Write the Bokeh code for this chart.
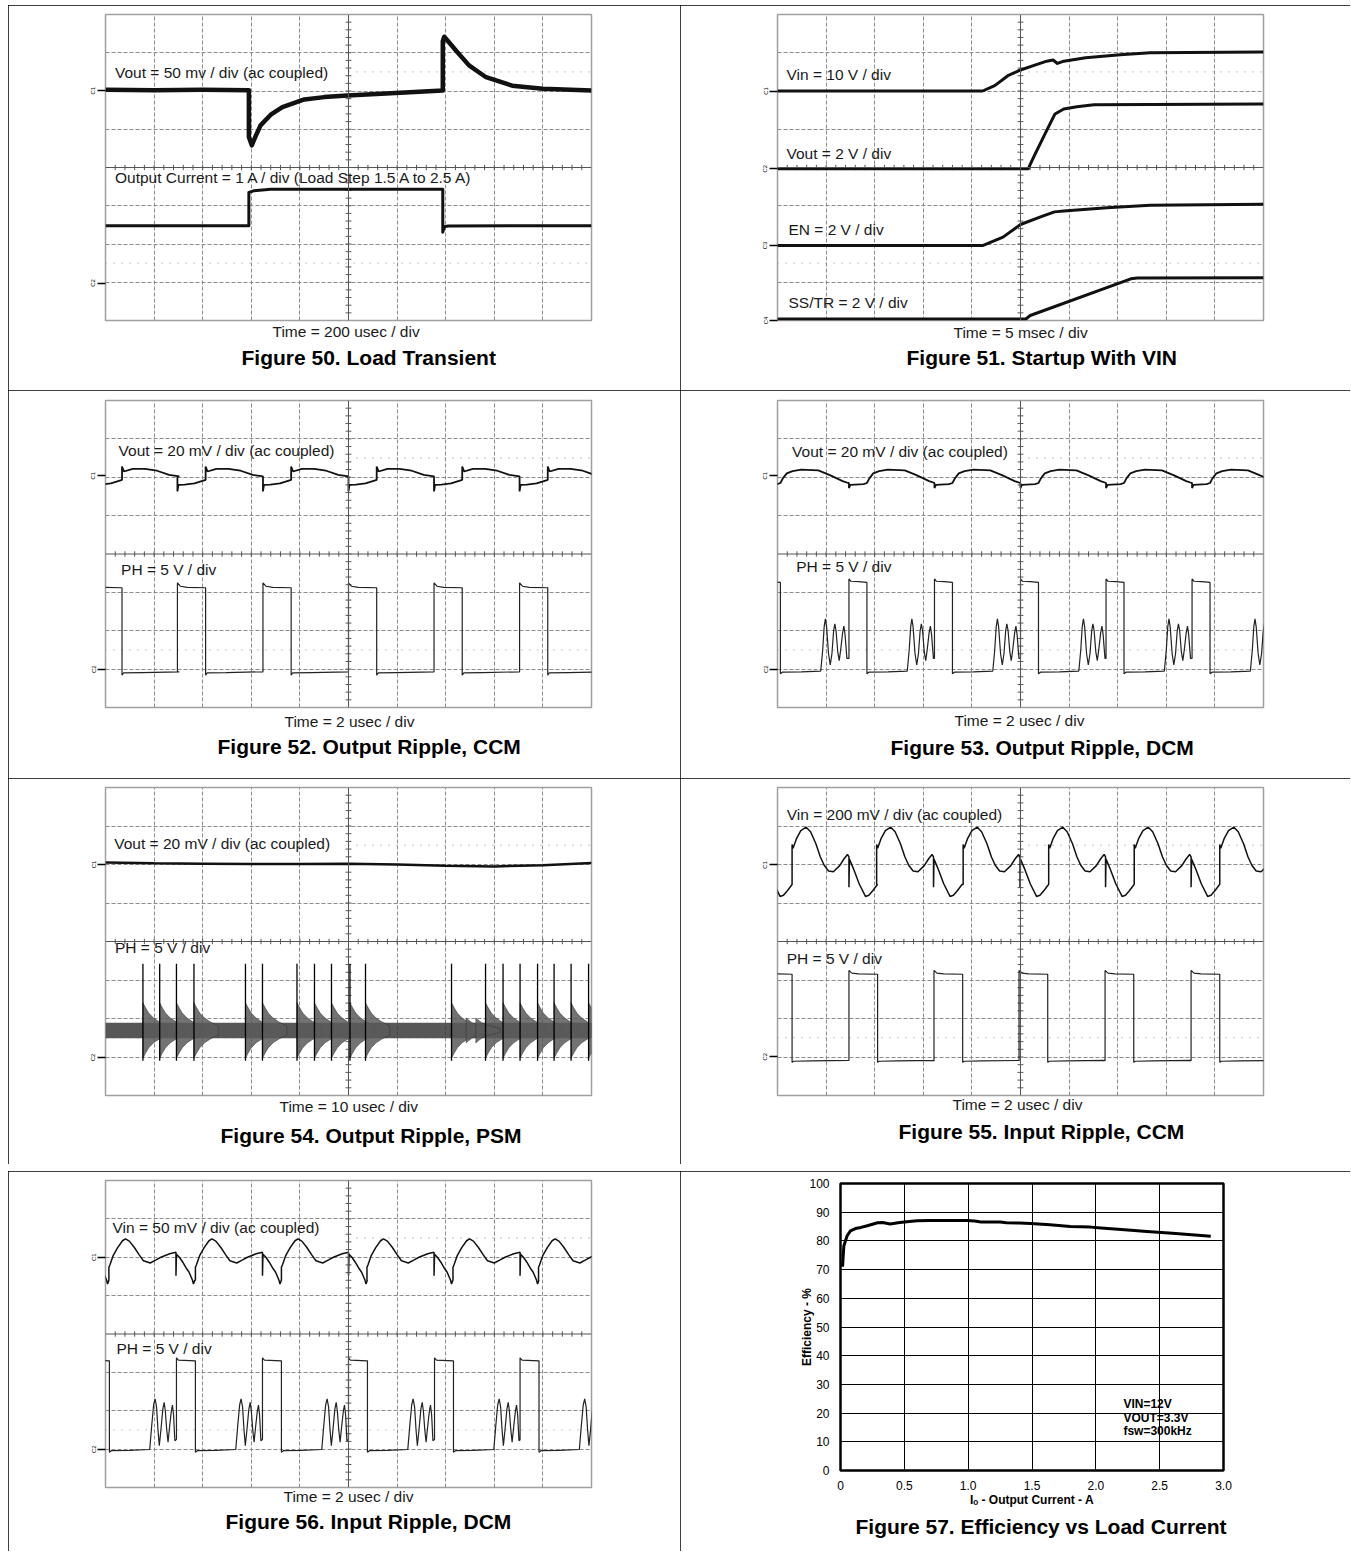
import numpy as np
from bokeh.plotting import figure
from bokeh.models import (Range1d, Label, Span, Grid, FixedTicker, LinearAxis, Title,
                          CustomJSTickFormatter, Spacer)
from bokeh.layouts import column, row
from bokeh.embed import file_html
from bokeh.resources import INLINE

FONT = "Liberation Sans"

# ============ DATA (scope traces in graticule divisions: x 0..10, y 0..8) ============
# Figure 50 - Load transient
F50_VOUT_X = [0.0, 1.0, 2.0, 2.95, 2.95, 3.01, 3.10, 3.19, 3.40, 3.64, 4.09, 4.50, 4.98, 5.87,
              6.94, 6.94, 6.97, 7.05, 7.21, 7.48, 7.83, 8.37, 9.0, 10.0]
F50_VOUT_Y = [6.03, 6.02, 6.03, 6.02, 4.80, 4.58, 4.85, 5.10, 5.38, 5.58, 5.78, 5.84, 5.88, 5.94,
              6.01, 7.30, 7.42, 7.30, 7.06, 6.67, 6.36, 6.14, 6.06, 6.01]
F50_IOUT_X = [0.0, 2.95, 2.95, 3.05, 3.40, 6.94, 6.94, 6.97, 7.05, 10.0]
F50_IOUT_Y = [2.48, 2.48, 3.35, 3.39, 3.43, 3.43, 2.31, 2.45, 2.47, 2.48]

# Figure 51 - Startup with VIN
F51_VIN_X = [0.0, 4.22, 4.47, 4.74, 5.00, 5.28, 5.54, 5.67, 5.76, 5.89, 6.34, 7.05, 7.67, 10.0]
F51_VIN_Y = [6.00, 6.00, 6.14, 6.40, 6.55, 6.67, 6.78, 6.81, 6.72, 6.78, 6.87, 6.95, 7.00, 7.02]
F51_VOUT_X = [0.0, 5.16, 5.27, 5.54, 5.71, 5.89, 6.16, 6.51, 10.0]
F51_VOUT_Y = [3.97, 3.97, 4.27, 4.97, 5.40, 5.53, 5.59, 5.64, 5.66]
F51_EN_X = [0.0, 4.22, 4.64, 5.00, 5.44, 5.70, 5.89, 6.78, 7.67, 10.0]
F51_EN_Y = [1.96, 1.96, 2.18, 2.51, 2.72, 2.84, 2.86, 2.95, 3.01, 3.04]
F51_SS_X = [0.0, 5.11, 5.20, 7.27, 7.40, 10.0]
F51_SS_Y = [0.04, 0.04, 0.13, 1.09, 1.11, 1.12]

# Figure 52 - Output ripple CCM (one switching period, PH rising edges)
F52_EDGES = [-0.24, 1.48, 3.24, 5.00, 6.76, 8.52]
F52_PH_DX = [0.00, 0.00, 0.06, 0.20, 0.58, 0.58, 0.61, 1.00, 1.76]
F52_PH_Y = [0.93, 3.25, 3.16, 3.13, 3.12, 0.84, 0.90, 0.91, 0.93]
F52_VOUT_DX = [0.00, 0.00, 0.02, 0.15, 0.35, 0.55, 0.58, 0.58, 0.62, 0.80, 1.05, 1.30, 1.55, 1.76]
F52_VOUT_Y = [6.02, 5.63, 5.80, 5.81, 5.84, 5.92, 5.93, 6.28, 6.15, 6.22, 6.22, 6.17, 6.06, 6.02]

# Figure 53 - Output ripple DCM
F53_EDGES = [-0.31, 1.47, 3.23, 5.00, 6.76, 8.53]
F53_PH_DX = [0.00, 0.00, 0.04, 0.20, 0.37, 0.37, 0.41, 0.80, 1.20, 1.24, 1.27, 1.295, 1.32, 1.36,
             1.395, 1.43, 1.465, 1.49, 1.515, 1.55, 1.58, 1.61, 1.65, 1.676, 1.70, 1.738, 1.765]
F53_PH_Y = [1.28, 3.35, 3.29, 3.28, 3.26, 0.88, 0.92, 0.93, 0.95, 1.50, 2.10, 2.31, 2.10, 1.40,
            1.11, 1.40, 2.00, 2.18, 2.00, 1.45, 1.22, 1.50, 1.95, 2.12, 1.90, 1.28, 1.28]
F53_VOUT_DX = [0.00, 0.00, 0.03, 0.30, 0.37, 0.42, 0.50, 0.62, 0.80, 1.15, 1.40, 1.65, 1.765]
F53_VOUT_Y = [5.85, 5.72, 5.80, 5.82, 5.85, 5.97, 6.10, 6.16, 6.20, 6.18, 6.05, 5.90, 5.85]

# Figure 54 - Output ripple PSM
F54_VOUT_X = [0, 1, 2, 3, 4, 5, 6, 7, 8, 9, 10]
F54_VOUT_Y = [6.05, 6.03, 6.02, 6.01, 6.01, 6.02, 6.00, 5.97, 5.95, 5.98, 6.04]
F54_SPIKES = [0.77, 1.115, 1.46, 1.82, 2.88, 3.23, 3.94, 4.30, 4.65, 5.03, 5.35,
              7.12, 7.82, 8.18, 8.53, 8.89, 9.23, 9.58, 9.94]
F54_SMALL_BURSTS = [7.42, 7.62]
F54_SPIKE_TOP = 3.42
F54_SPIKE_BOTTOM = 0.90
F54_BASE = 1.69
F54_BASE_HALF = 0.20
F54_RING_DX = [0.0, 0.05, 0.12, 0.22, 0.34, 0.50]
F54_RING_AMP = [0.72, 0.60, 0.45, 0.32, 0.22, 0.12]

# Figure 55 - Input ripple CCM
F55_EDGES = [-0.29, 1.47, 3.22, 4.97, 6.74, 8.51]
F55_PH_DX = [0.00, 0.00, 0.06, 0.20, 0.59, 0.59, 0.62, 1.00, 1.757]
F55_PH_Y = [0.90, 3.25, 3.18, 3.16, 3.15, 0.86, 0.89, 0.90, 0.91]
F55_FALLS = [-1.457, 0.30, 2.04, 3.82, 5.58, 7.34, 9.10]
F55_VIN_DX = [0.00, 0.00, 0.02, 0.09, 0.18, 0.29, 0.38, 0.49, 0.58, 0.66, 0.75, 0.85, 0.98, 1.07,
              1.14, 1.17, 1.17, 1.18, 1.26, 1.38, 1.51, 1.58, 1.66, 1.757]
F55_VIN_Y = [5.48, 6.52, 6.42, 6.67, 6.88, 6.97, 6.85, 6.54, 6.20, 5.98, 5.83, 5.81, 5.97, 6.15,
             6.26, 6.20, 5.41, 6.14, 5.90, 5.50, 5.17, 5.20, 5.32, 5.48]

# Figure 56 - Input ripple DCM
F56_EDGES = [-0.31, 1.46, 3.23, 5.00, 6.77, 8.53]
F56_PH_DX = [0.00, 0.00, 0.04, 0.39, 0.39, 0.43, 0.80, 1.22, 1.26, 1.30, 1.33, 1.36, 1.39, 1.417,
             1.45, 1.49, 1.517, 1.54, 1.57, 1.597, 1.63, 1.665, 1.687, 1.71, 1.737, 1.767]
F56_PH_Y = [1.25, 3.38, 3.32, 3.30, 0.92, 0.96, 0.97, 0.99, 1.60, 2.15, 2.31, 2.10, 1.50, 1.09,
            1.50, 2.05, 2.22, 2.00, 1.50, 1.18, 1.60, 2.00, 2.15, 1.90, 1.22, 1.25]
F56_FALLS = [-1.697, 0.07, 1.85, 3.62, 5.38, 7.15, 8.91]
F56_VIN_DX = [0.00, 0.00, 0.02, 0.09, 0.18, 0.28, 0.34, 0.42, 0.52, 0.62, 0.71, 0.85, 0.97, 1.07,
              1.25, 1.38, 1.38, 1.39, 1.45, 1.52, 1.60, 1.65, 1.72, 1.74, 1.767]
F56_VIN_Y = [5.40, 5.74, 5.80, 6.05, 6.25, 6.43, 6.48, 6.42, 6.26, 6.07, 5.91, 5.85, 5.93, 6.00,
             6.09, 6.13, 5.52, 6.08, 6.00, 5.87, 5.70, 5.61, 5.40, 5.30, 5.40]

# Figure 57 - Efficiency vs load current
EFF_I = [0.016, 0.026, 0.052, 0.078, 0.117, 0.16, 0.21, 0.29, 0.33, 0.39, 0.45, 0.50, 0.60, 0.70,
         0.80, 0.90, 0.99, 1.05, 1.10, 1.25, 1.30, 1.40, 1.49, 1.64, 1.80, 1.96, 2.04, 2.20, 2.40,
         2.60, 2.80, 2.90]
EFF_PCT = [71.0, 78.2, 81.8, 83.5, 84.3, 84.7, 85.3, 86.3, 86.4, 85.9, 86.3, 86.6, 87.0, 87.1,
           87.1, 87.1, 87.1, 86.9, 86.6, 86.6, 86.3, 86.2, 86.1, 85.6, 85.0, 84.8, 84.5, 84.0, 83.3,
           82.7, 82.0, 81.6]
EFF_X_TICKS = [0, 0.5, 1.0, 1.5, 2.0, 2.5, 3.0]
EFF_Y_TICKS = [0, 10, 20, 30, 40, 50, 60, 70, 80, 90, 100]
EFF_NOTES = ["VIN=12V", "VOUT=3.3V", "fsw=300kHz"]

# ============ styling ============
CELL_STYLE = {"outline": "1px solid #000000", "outline-offset": "-1px"}
TXT = "#1a1a1a"
H_TIME, H_CAP = 18, 24     # approximate text box heights used to place the titles


def tile(edges, dx, ys):
    xs_out, ys_out = [], []
    for e in edges:
        xs_out.extend(e + d for d in dx)
        ys_out.extend(ys)
    return xs_out, ys_out


def channel_axis(p, names, levels):
    ax = LinearAxis(ticker=FixedTicker(ticks=levels),
                    formatter=CustomJSTickFormatter(
                        args=dict(levels=levels, names=names),
                        code="for (let i = 0; i < levels.length; i++) {"
                             " if (Math.abs(levels[i] - tick) < 1e-6) return names[i]; }"
                             " return '';"),
                    axis_line_color=None, major_tick_in=0, major_tick_out=8,
                    major_tick_line_width=1.5, major_tick_line_color="#000000",
                    minor_tick_line_color=None, major_label_text_font=FONT,
                    major_label_text_font_size="6px", major_label_standoff=1,
                    major_label_orientation="vertical", major_label_text_color="#000000")
    p.add_layout(ax, "left")


def titles_below(p, time_text, time_left, d_time, cap_text, cap_left, d_cap):
    s1 = int(round(2 * d_time - 2 - H_TIME))
    h1 = 2 + H_TIME + s1
    s2 = int(round(2 * (d_cap - h1) - 2 - H_CAP))
    p.add_layout(Title(text=time_text, align="left", offset=time_left, standoff=s1,
                       vertical_align="middle", text_font=FONT, text_font_size="15.5px",
                       text_font_style="normal", text_color=TXT), "below")
    p.add_layout(Title(text=cap_text, align="left", offset=cap_left, standoff=s2,
                       vertical_align="middle", text_font=FONT, text_font_size="21px",
                       text_font_style="bold", text_color="#000000"), "below")


def scope(w, h, left, right, top, bottom):
    p = figure(width=w, height=h, x_range=Range1d(0, 10), y_range=Range1d(0, 8),
               x_axis_type=None, y_axis_type=None, toolbar_location=None,
               output_backend="svg", title=None,
               min_border_left=left, min_border_right=right,
               min_border_top=top, min_border_bottom=bottom)
    p.styles = CELL_STYLE
    p.outline_line_color = "#a0a0a0"
    p.outline_line_width = 1.5
    p.background_fill_color = "white"
    p.border_fill_color = "white"
    gx = Grid(dimension=0, ticker=FixedTicker(ticks=[1, 2, 3, 4, 6, 7, 8, 9]),
              grid_line_color="#8c8c8c", grid_line_dash="4 2", grid_line_width=1)
    gy = Grid(dimension=1, ticker=FixedTicker(ticks=[1, 2, 3, 5, 6, 7]),
              grid_line_color="#8c8c8c", grid_line_dash="4 2", grid_line_width=1)
    p.add_layout(gx)
    p.add_layout(gy)
    p.add_layout(Span(location=5, dimension="height", line_color="#555555", line_width=1))
    p.add_layout(Span(location=4, dimension="width", line_color="#555555", line_width=1))
    tx = np.arange(0.2, 10.0, 0.2)
    ty = np.arange(0.2, 8.0, 0.2)
    p.segment(x0=tx, y0=4 - 0.07, x1=tx, y1=4 + 0.07, line_color="#555555", line_width=1)
    p.segment(x0=5 - 0.06, y0=ty, x1=5 + 0.06, y1=ty, line_color="#555555", line_width=1)
    # dotted reference rows
    p.segment(x0=[5.0, 0.0], y0=[6.5, 1.5], x1=[10.0, 10.0], y1=[6.5, 1.5],
              line_color="#8c8c8c", line_dash="1 7", line_width=1)
    return p


def label(p, x, y, text):
    p.add_layout(Label(x=x, y=y, text=text, text_font=FONT, text_font_size="15.5px",
                       text_align="left", text_baseline="middle", text_color=TXT))


# geometry (cells): columns 8 | 672 | 670 ; rows 5 | 385 | 388 | 386 | 7 | 380
W1, W2 = 672, 670

# ---------- Figure 50 ----------
p50 = scope(W1, 385, 97, 89, 9, 70)
p50.line(F50_VOUT_X, F50_VOUT_Y, line_color="#111111", line_width=4.5, line_join="round")
p50.line(F50_IOUT_X, F50_IOUT_Y, line_color="#111111", line_width=3, line_join="round")
label(p50, 0.195, 6.49, "Vout = 50 mv / div (ac coupled)")
label(p50, 0.195, 3.75, "Output Current = 1 A / div (Load Step 1.5 A to 2.5 A)")
channel_axis(p50, ["C1", "C2"], [6.01, 0.98])
titles_below(p50, "Time = 200 usec / div", 167, 11, "Figure 50. Load Transient", 136, 38)

# ---------- Figure 51 ----------
p51 = scope(W2, 385, 97, 87, 9, 70)
for xs, ys in [(F51_VIN_X, F51_VIN_Y), (F51_VOUT_X, F51_VOUT_Y),
               (F51_EN_X, F51_EN_Y), (F51_SS_X, F51_SS_Y)]:
    p51.line(xs, ys, line_color="#111111", line_width=3, line_join="round")
label(p51, 0.185, 6.43, "Vin = 10 V / div")
label(p51, 0.185, 4.37, "Vout = 2 V / div")
label(p51, 0.226, 2.39, "EN = 2 V / div")
label(p51, 0.226, 0.48, "SS/TR = 2 V / div")
channel_axis(p51, ["C1", "C2", "C3", "C4"], [6.0, 3.97, 1.96, 0.0])
titles_below(p51, "Time = 5 msec / div", 176, 12.5, "Figure 51. Startup With VIN", 129, 38)

# ---------- Figure 52 ----------
p52 = scope(W1, 388, 97, 89, 10, 71)
x, y = tile(F52_EDGES, F52_PH_DX, F52_PH_Y)
p52.line(x, y, line_color="#222222", line_width=1.2)
x, y = tile(F52_EDGES, F52_VOUT_DX, F52_VOUT_Y)
p52.line(x, y, line_color="#111111", line_width=1.8)
label(p52, 0.27, 6.70, "Vout = 20 mV / div (ac coupled)")
label(p52, 0.32, 3.59, "PH = 5 V / div")
channel_axis(p52, ["C1", "C2"], [6.04, 1.0])
titles_below(p52, "Time = 2 usec / div", 179, 14.5, "Figure 52. Output Ripple, CCM", 112, 40)

# ---------- Figure 53 ----------
p53 = scope(W2, 388, 97, 87, 10, 71)
x, y = tile(F53_EDGES, F53_PH_DX, F53_PH_Y)
p53.line(x, y, line_color="#222222", line_width=1.2)
x, y = tile(F53_EDGES, F53_VOUT_DX, F53_VOUT_Y)
p53.line(x, y, line_color="#111111", line_width=1.8)
label(p53, 0.30, 6.67, "Vout = 20 mV / div (ac coupled)")
label(p53, 0.385, 3.67, "PH = 5 V / div")
channel_axis(p53, ["C1", "C2"], [6.04, 1.0])
titles_below(p53, "Time = 2 usec / div", 177, 13, "Figure 53. Output Ripple, DCM", 113, 41)

# ---------- Figure 54 ----------
p54 = scope(W1, 386, 97, 89, 9, 69)
p54.line(F54_VOUT_X, F54_VOUT_Y, line_color="#111111", line_width=2.5)
p54.patch([0, 10, 10, 0], [F54_BASE - F54_BASE_HALF, F54_BASE - F54_BASE_HALF,
                           F54_BASE + F54_BASE_HALF, F54_BASE + F54_BASE_HALF],
          fill_color="#3a3a3a", fill_alpha=0.85, line_color=None)
ring_x, ring_y = [], []
for s, k in [(t, 1.0) for t in F54_SPIKES] + [(t, 0.45) for t in F54_SMALL_BURSTS]:
    top = [F54_BASE + k * a for a in F54_RING_AMP]
    bot = [F54_BASE - k * a for a in F54_RING_AMP]
    ring_x.append([s + d for d in F54_RING_DX] + [s + d for d in F54_RING_DX[::-1]])
    ring_y.append(top + bot[::-1])
p54.patches(ring_x, ring_y, fill_color="#5a5a5a", fill_alpha=0.85, line_color="#333333",
            line_width=0.5)
p54.segment(x0=F54_SPIKES, y0=F54_SPIKE_BOTTOM, x1=F54_SPIKES, y1=F54_SPIKE_TOP,
            line_color="#000000", line_width=1.3)
label(p54, 0.18, 6.54, "Vout = 20 mV / div (ac coupled)")
label(p54, 0.195, 3.85, "PH = 5 V / div")
channel_axis(p54, ["C1", "C2"], [6.0, 0.99])
titles_below(p54, "Time = 10 usec / div", 174, 11.5, "Figure 54. Output Ripple, PSM", 115, 41)

# ---------- Figure 55 ----------
p55 = scope(W2, 386, 97, 87, 9, 69)
x, y = tile(F55_EDGES, F55_PH_DX, F55_PH_Y)
p55.line(x, y, line_color="#222222", line_width=1.2)
x, y = tile(F55_FALLS, F55_VIN_DX, F55_VIN_Y)
p55.line(x, y, line_color="#111111", line_width=1.5)
label(p55, 0.19, 7.30, "Vin = 200 mV / div (ac coupled)")
label(p55, 0.19, 3.55, "PH = 5 V / div")
channel_axis(p55, ["C1", "C2"], [5.99, 1.01])
titles_below(p55, "Time = 2 usec / div", 175, 9.5, "Figure 55. Input Ripple, CCM", 121, 37)

# ---------- Figure 56 ----------
p56 = scope(W1, 380, 97, 89, 9, 64)
x, y = tile(F56_EDGES, F56_PH_DX, F56_PH_Y)
p56.line(x, y, line_color="#222222", line_width=1.2)
x, y = tile(F56_FALLS, F56_VIN_DX, F56_VIN_Y)
p56.line(x, y, line_color="#111111", line_width=1.5)
label(p56, 0.144, 6.78, "Vin = 50 mV / div (ac coupled)")
label(p56, 0.226, 3.61, "PH = 5 V / div")
channel_axis(p56, ["C1", "C2"], [6.0, 1.0])
titles_below(p56, "Time = 2 usec / div", 178, 9, "Figure 56. Input Ripple, DCM", 120, 35)

# ---------- Figure 57 ----------
p57 = figure(width=W2, height=380, x_range=Range1d(0, 3), y_range=Range1d(0, 100),
             toolbar_location=None, output_backend="svg", title=None,
             min_border_left=160, min_border_right=127, min_border_top=12, min_border_bottom=81)
p57.styles = CELL_STYLE
p57.outline_line_color = "#000000"
p57.outline_line_width = 2.5
for ax in (p57.xaxis[0], p57.yaxis[0]):
    ax.axis_line_color = None
    ax.major_tick_line_color = None
    ax.minor_tick_line_color = None
    ax.major_label_text_font = FONT
    ax.major_label_text_font_size = "12px"
    ax.major_label_text_color = "#000000"
    ax.axis_label_text_font = FONT
    ax.axis_label_text_font_size = "12px"
    ax.axis_label_text_font_style = "bold"
    ax.axis_label_text_color = "#000000"
p57.xaxis.ticker = FixedTicker(ticks=EFF_X_TICKS)
p57.yaxis.ticker = FixedTicker(ticks=EFF_Y_TICKS)
p57.xaxis.formatter = CustomJSTickFormatter(code="return tick == 0 ? '0' : tick.toFixed(1);")
p57.xaxis.major_label_standoff = 4
p57.yaxis.major_label_standoff = 5
p57.yaxis.axis_label = "Efficiency - %"
p57.yaxis.axis_label_standoff = -8
p57.xaxis.axis_label = "I\u2092 - Output Current - A"
p57.xaxis.axis_label_standoff = 0
p57.xgrid.ticker = FixedTicker(ticks=EFF_X_TICKS)
p57.ygrid.ticker = FixedTicker(ticks=EFF_Y_TICKS)
p57.xgrid.grid_line_color = "#000000"
p57.ygrid.grid_line_color = "#000000"
p57.xgrid.grid_line_width = 1
p57.ygrid.grid_line_width = 1
p57.line(EFF_I, EFF_PCT, line_color="#000000", line_width=3, line_join="round")
for i, t in enumerate(EFF_NOTES):
    p57.add_layout(Label(x=2.216, y=23.3 - 4.85 * i, text=t, text_font=FONT,
                         text_font_size="12px", text_font_style="bold",
                         text_baseline="middle", text_color="#000000"))
p57.add_layout(Title(text="Figure 57. Efficiency vs Load Current", align="left", offset=15,
                     standoff=8, vertical_align="middle", text_font=FONT,
                     text_font_size="21px", text_font_style="bold", text_color="#000000"),
               "below")


def lrow(a, b):
    return row(Spacer(width=8), a, b)


row4 = row(Spacer(width=8), column(p56), column(p57))
layout = column(Spacer(height=5), lrow(p50, p51), lrow(p52, p53), lrow(p54, p55),
                Spacer(height=7), row4)

open("out.html", "w").write(file_html(layout, INLINE))
